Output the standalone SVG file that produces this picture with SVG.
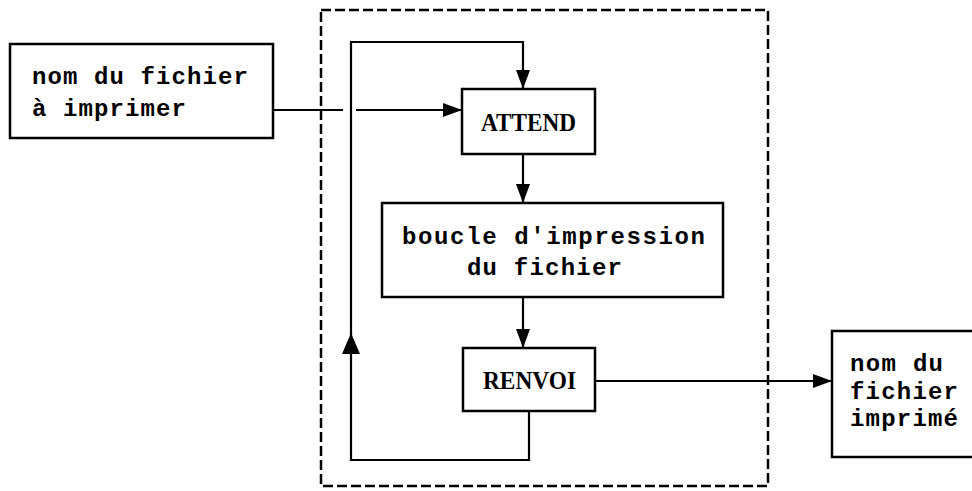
<svg xmlns="http://www.w3.org/2000/svg" width="972" height="491" viewBox="0 0 972 491">
<style>
.box{fill:#fff;stroke:#000;stroke-width:2.5}
.ln{fill:none;stroke:#000;stroke-width:2.2}
.mono{font-family:"Liberation Mono","DejaVu Sans Mono",monospace;font-weight:bold;font-size:24px;fill:#000}
.serif{font-family:"Liberation Serif","DejaVu Serif",serif;font-size:25px;fill:#000;font-weight:bold}
</style>
<defs>
<marker id="ah" markerUnits="userSpaceOnUse" markerWidth="20" markerHeight="14" refX="19" refY="7" orient="auto">
<path d="M0,0 L19,7 L0,14 Z" fill="#000"/>
</marker>
<marker id="ahb" markerUnits="userSpaceOnUse" markerWidth="22" markerHeight="18" refX="21" refY="9" orient="auto">
<path d="M0,0 L21,9 L0,18 Z" fill="#000"/>
</marker>
</defs>
<rect id="frame" x="321" y="10" width="447" height="476" fill="none" stroke="#000" stroke-width="2.5" stroke-dasharray="10 4"/>
<g id="connectors">
<line class="ln" x1="273" y1="110" x2="343" y2="110"/>
<line class="ln" x1="356" y1="110" x2="462" y2="110" marker-end="url(#ah)"/>
<polyline class="ln" points="350,42 523,42 523,89" marker-end="url(#ah)"/>
<line class="ln" x1="523" y1="154" x2="523" y2="203" marker-end="url(#ah)"/>
<line class="ln" x1="523" y1="297" x2="523" y2="348" marker-end="url(#ah)"/>
<polyline class="ln" points="529,411 529,460 351,460 351,333" marker-end="url(#ahb)"/>
<line class="ln" x1="351" y1="334" x2="351" y2="42"/>
<line class="ln" x1="595" y1="381" x2="832" y2="381" marker-end="url(#ah)"/>
</g>
<g id="input">
<rect class="box" x="10" y="44" width="263" height="94"/>
<text class="mono" x="32" y="84" textLength="216" lengthAdjust="spacing">nom du fichier</text>
<text class="mono" x="32" y="116" textLength="154" lengthAdjust="spacing">à imprimer</text>
</g>
<g id="attend">
<rect class="box" x="462" y="89" width="133" height="65"/>
<text class="serif" x="481" y="131" textLength="95" lengthAdjust="spacingAndGlyphs">ATTEND</text>
</g>
<g id="boucle">
<rect class="box" x="382" y="203" width="341" height="94"/>
<text class="mono" x="402" y="244" textLength="303" lengthAdjust="spacing">boucle d'impression</text>
<text class="mono" x="467" y="275" textLength="155" lengthAdjust="spacing">du fichier</text>
</g>
<g id="renvoi">
<rect class="box" x="463" y="348" width="132" height="63"/>
<text class="serif" x="483" y="389" textLength="93" lengthAdjust="spacingAndGlyphs">RENVOI</text>
</g>
<g id="output">
<rect class="box" x="832" y="331" width="160" height="126"/>
<text class="mono" x="850" y="371" textLength="93" lengthAdjust="spacing">nom du</text>
<text class="mono" x="850" y="399" textLength="108" lengthAdjust="spacing">fichier</text>
<text class="mono" x="850" y="426" textLength="108" lengthAdjust="spacing">imprimé</text>
</g>
</svg>
